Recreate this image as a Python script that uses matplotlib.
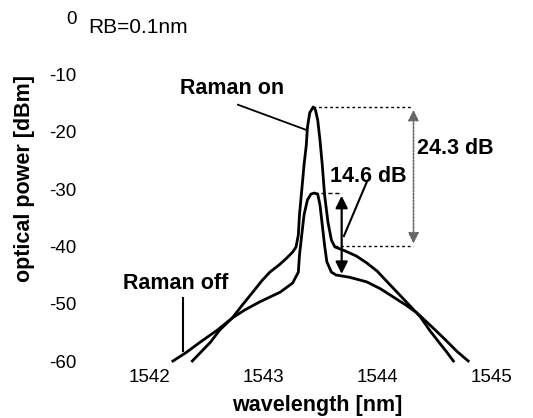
import numpy as np
import matplotlib
matplotlib.use('Agg')
import matplotlib.pyplot as plt

plt.rcParams['font.family'] = ['Liberation Sans', 'DejaVu Sans']
plt.rcParams['axes.unicode_minus'] = False

# Spectra (wavelength in nm, power in dBm)
wl_on = [1542.38, 1542.54, 1542.62, 1542.73, 1542.82, 1542.91, 1542.99, 1543.06,
         1543.15, 1543.21, 1543.26, 1543.29, 1543.31, 1543.32, 1543.34, 1543.36,
         1543.38, 1543.39, 1543.41, 1543.44, 1543.46, 1543.48, 1543.50, 1543.52,
         1543.54, 1543.57, 1543.60, 1543.63, 1543.72, 1543.82, 1543.91, 1544.00,
         1544.09, 1544.20, 1544.29, 1544.38, 1544.46, 1544.55, 1544.61, 1544.67]
p_on = [-60.0, -56.7, -54.6, -52.5, -50.2, -48.0, -46.0, -44.5,
        -43.1, -42.0, -41.0, -40.1, -38.0, -34.5, -30.2, -25.8,
        -22.3, -19.2, -16.7, -15.7, -16.2, -18.0, -21.5, -25.8,
        -31.0, -35.8, -38.9, -40.1, -40.8, -41.7, -42.9, -44.3,
        -46.2, -48.5, -50.4, -52.3, -54.6, -56.9, -58.4, -60.0]

wl_off = [1542.21, 1542.32, 1542.45, 1542.60, 1542.73, 1542.84, 1542.97, 1543.15,
          1543.26, 1543.31, 1543.32, 1543.34, 1543.36, 1543.39, 1543.42, 1543.45,
          1543.48, 1543.50, 1543.52, 1543.54, 1543.56, 1543.60, 1543.64, 1543.76,
          1543.91, 1544.03, 1544.14, 1544.25, 1544.35, 1544.42, 1544.49, 1544.60,
          1544.70, 1544.80]
p_off = [-60.0, -58.6, -56.7, -54.6, -52.5, -51.1, -49.7, -48.0,
         -46.4, -44.5, -41.5, -38.0, -34.5, -31.9, -30.9, -30.7,
         -30.9, -32.8, -36.3, -39.8, -42.7, -44.5, -45.0, -45.4,
         -46.2, -47.4, -48.8, -50.2, -51.6, -52.9, -54.2, -56.3,
         -58.3, -60.0]

x_ticks = [1542, 1543, 1544, 1545]
y_ticks = [0, -10, -20, -30, -40, -50, -60]

# gain markers
on_peak = -15.7
on_floor = -40.0
off_peak = -30.7
off_floor = -45.3

fig = plt.figure(figsize=(5.33, 4.18), dpi=100)
ax = fig.add_axes([149 / 533, 1 - 361 / 418, 342 / 533, 344 / 418])

ax.plot(wl_on, p_on, color='black', lw=2, clip_on=False)
ax.plot(wl_off, p_off, color='black', lw=2, clip_on=False)

ax.set_xlim(1542, 1545)
ax.set_ylim(-60, 0)
ax.set_xticks(x_ticks)
ax.set_yticks(y_ticks)
ax.tick_params(axis='x', length=0, pad=6, labelsize=13.5)
ax.tick_params(axis='y', length=0, pad=52, labelsize=13.5)
for s in ax.spines.values():
    s.set_visible(False)

# 24.3 dB marker (dotted)
x24 = 1544.32
ax.plot([1543.44, x24], [on_peak, on_peak], color='black', lw=1, ls=(0, (2, 2)))
ax.plot([1543.63, x24], [on_floor, on_floor], color='black', lw=1, ls=(0, (2, 2)))
ax.annotate('', xy=(x24, on_peak), xytext=(x24, on_floor),
            arrowprops=dict(arrowstyle='<|-|>', color='0.4', lw=1.2,
                            ls=(0, (1, 1)), mutation_scale=16))
ax.text(x24 + 0.03, -22.9, '24.3 dB', fontsize=15.5, fontweight='bold',
        va='center', ha='left')

# 14.6 dB marker (solid)
x14 = 1543.69
ax.plot([1543.45, x14], [off_peak, off_peak], color='black', lw=1, ls=(0, (3, 2)))
ax.annotate('', xy=(x14, off_peak), xytext=(x14, off_floor),
            arrowprops=dict(arrowstyle='<|-|>', color='black', lw=1.6,
                            mutation_scale=18))
ax.text(1543.59, -27.9, '14.6 dB', fontsize=15.5, fontweight='bold',
        va='center', ha='left')
ax.plot([1543.91, 1543.71], [-28.8, -38.2], color='black', lw=1.5)

# curve labels
ax.text(1542.73, -12.4, 'Raman on', fontsize=15.5, fontweight='bold',
        va='center', ha='center')
ax.plot([1542.78, 1543.38], [-15.3, -19.7], color='black', lw=1.3)
ax.text(1542.23, -46.4, 'Raman off', fontsize=15.5, fontweight='bold',
        va='center', ha='center')
ax.plot([1542.30, 1542.30], [-49.0, -58.3], color='black', lw=1.5)

ax.text(1541.47, -1.9, 'RB=0.1nm', fontsize=15, va='center', ha='left')

fig.text(317 / 533, 1 - 405 / 418, 'wavelength [nm]', fontsize=15.5,
         fontweight='bold', ha='center', va='center')
fig.text(25 / 533, 1 - 178 / 418, 'optical power [dBm]', fontsize=15.5,
         fontweight='bold', ha='center', va='center', rotation=90)

fig.savefig('out.png', dpi=100)
